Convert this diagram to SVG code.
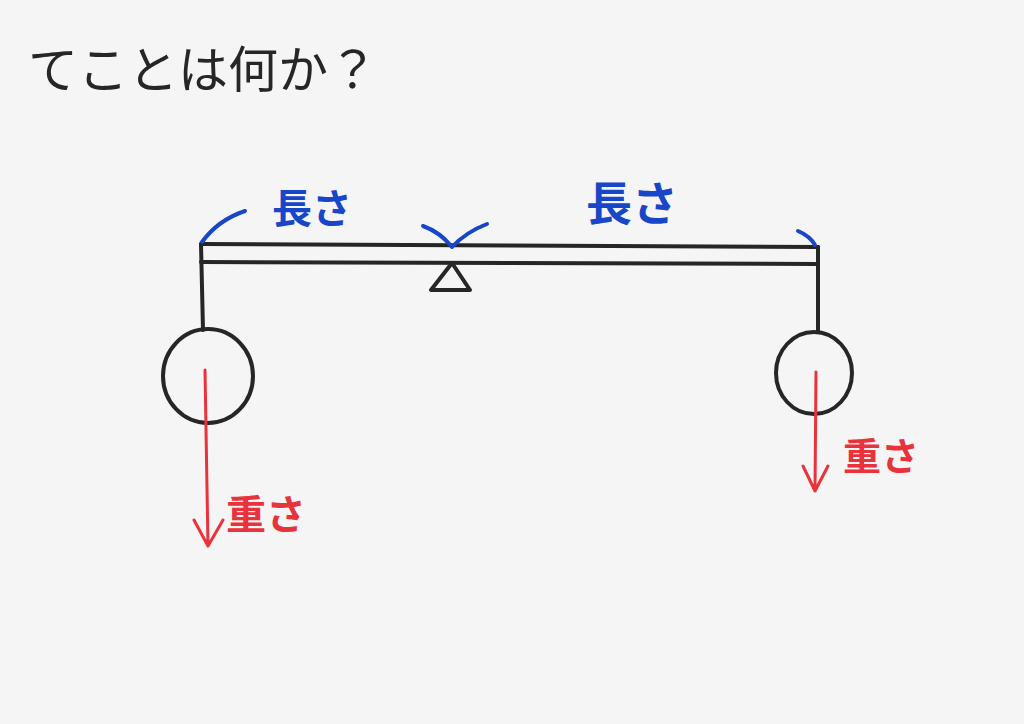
<svg xmlns="http://www.w3.org/2000/svg" width="1024" height="724" viewBox="0 0 1024 724">
<defs>
<style>
.ink{fill:none;stroke:#262626;stroke-width:4;stroke-linecap:round;stroke-linejoin:round}
.blue{fill:none;stroke:#1747c8;stroke-width:4;stroke-linecap:round;stroke-linejoin:round}
.red{fill:none;stroke:#e8323c;stroke-width:3;stroke-linecap:round;stroke-linejoin:round}
.t{font-family:"Noto Sans CJK JP","Noto Sans",sans-serif}
.title{fill:#262626;font-size:50px}
.bl{fill:#1747c8;font-weight:bold}
.rd{fill:#e8323c;font-weight:bold}
</style>
</defs>
<rect width="1024" height="724" fill="#f5f5f5"/>
<text class="t title" x="28" y="88">てことは何か？</text>
<g id="beam">
<path class="ink" d="M201 244 L818 247"/>
<path class="ink" d="M201 262 L818 264"/>
</g>
<g id="fulcrum">
<path class="ink" d="M452 263 L431 290 L470 290 Z"/>
</g>
<g id="left-weight">
<path class="ink" d="M201 244 L203 330"/>
<ellipse class="ink" cx="208" cy="376" rx="45" ry="47"/>
</g>
<g id="right-weight">
<path class="ink" d="M818 247 L818 332"/>
<ellipse class="ink" cx="814" cy="373" rx="38" ry="41"/>
</g>
<g id="connectors">
<path class="blue" d="M202 242 Q218 220 245 211"/>
<path class="blue" d="M423 226 Q440 232 452 247 Q466 232 487 224"/>
<path class="blue" d="M798 231 Q810 236 815 245"/>
<path class="red" d="M205 370 L208 546 M194 520 L208 546 L223 520"/>
<path class="red" d="M816 372 L815 491 M803 466 L815 491 L828 466"/>
</g>
<text class="t bl" x="272" y="223" font-size="40">長さ</text>
<text class="t bl" x="586" y="220" font-size="46">長さ</text>
<text class="t rd" x="226" y="529" font-size="40">重さ</text>
<text class="t rd" x="843" y="470" font-size="38">重さ</text>
</svg>
